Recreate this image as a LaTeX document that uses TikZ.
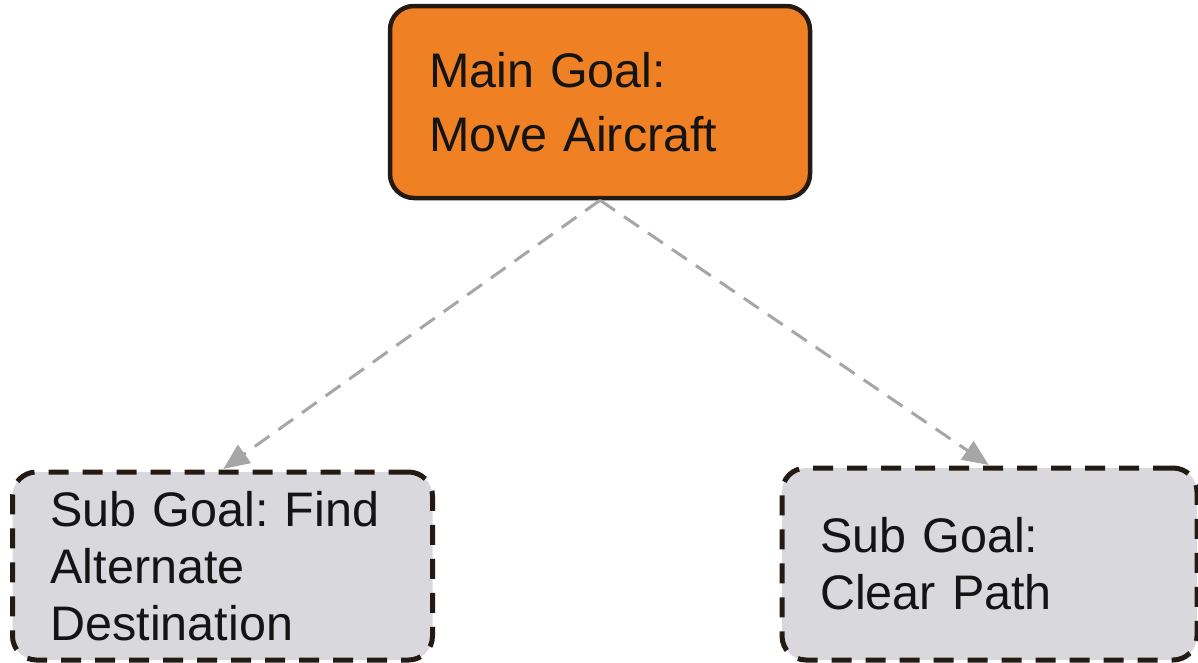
\documentclass[tikz,border=0pt]{standalone}
\usepackage{fontspec}
\setmainfont{Liberation Sans}
\usetikzlibrary{arrows.meta}
\definecolor{goalorange}{HTML}{F08024}
\definecolor{subgrey}{HTML}{D9D9DD}
\definecolor{edgedark}{HTML}{231A14}
\definecolor{linkgrey}{HTML}{A6A6A6}
\frenchspacing
\begin{document}
\begin{tikzpicture}[x=1pt,y=-1pt,
  goalbox/.style={draw=edgedark, line width=4.5pt, rounded corners=24pt,
    fill=goalorange, inner xsep=39pt, inner ysep=0pt, align=left,
    font=\fontsize{48.5}{64}\selectfont, text=black!92},
  subbox/.style={draw=edgedark, line width=5pt, rounded corners=24pt,
    dash pattern=on 20pt off 14pt, fill=subgrey, inner xsep=38pt,
    inner ysep=0pt, align=left, font=\fontsize{48.5}{57}\selectfont,
    text=black!92},
  link/.style={draw=linkgrey, line width=3pt, dash pattern=on 18pt off 11pt,
    -{Triangle[length=26pt,width=22pt]}, shorten >=1pt}
]
\useasboundingbox (0,0) rectangle (1198,662);

\node[goalbox, text width=342pt, minimum width=420pt, minimum height=192pt]
  (main) at (600,102) {Main Goal:\\Move Aircraft};

\node[subbox, text width=344pt, minimum width=420pt, minimum height=188pt]
  (subA) at (222.5,566) {Sub Goal: Find\\Alternate\\Destination};

\node[subbox, text width=339pt, minimum width=415pt, minimum height=192pt]
  (subB) at (989.5,564) {Sub Goal:\\Clear Path};

\draw[link] (main.south) -- (subA.north);
\draw[link] (main.south) -- (subB.north);
\end{tikzpicture}
\end{document}
